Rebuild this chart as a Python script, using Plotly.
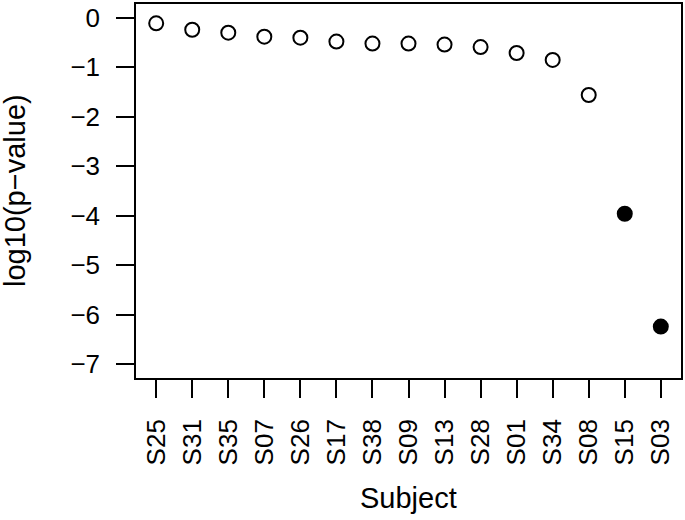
import plotly.graph_objects as go

# subjects in plotted order, log10 p-values
subjects = ["S25", "S31", "S35", "S07", "S26", "S17", "S38", "S09",
            "S13", "S28", "S01", "S34", "S08", "S15", "S03"]
log_p = [-0.11, -0.24, -0.30, -0.38, -0.40, -0.48, -0.52, -0.52,
         -0.54, -0.59, -0.71, -0.85, -1.56, -3.96, -6.24]
significant = [False] * 13 + [True, True]

y_ticks = [0, -1, -2, -3, -4, -5, -6, -7]
y_ticktext = ["0", "\u22121", "\u22122", "\u22123", "\u22124", "\u22125", "\u22126", "\u22127"]

FONT = "Liberation Sans, Arial, sans-serif"

pos = list(range(1, len(subjects) + 1))
fig = go.Figure(
    go.Scatter(
        x=pos,
        y=log_p,
        mode="markers",
        marker=dict(
            symbol=["circle" if s else "circle-open" for s in significant],
            color="black",
            size=14,
            line=dict(color="black", width=2),
        ),
        showlegend=False,
        hoverinfo="skip",
    )
)

axis_common = dict(
    showgrid=False,
    zeroline=False,
    showline=True,
    mirror=True,
    linecolor="black",
    linewidth=1.5,
    ticks="outside",
    ticklen=18,
    tickwidth=1.5,
    tickcolor="black",
    tickfont=dict(family=FONT, size=26, color="black"),
)

fig.update_xaxes(
    range=[0.44, 15.56],
    tickvals=pos,
    ticktext=subjects,
    tickangle=-90,
    ticklabelstandoff=11,
    **axis_common,
)
fig.update_yaxes(
    range=[-7.28, 0.28],
    tickvals=y_ticks,
    ticktext=y_ticktext,
    ticklabelstandoff=11,
    **axis_common,
)

fig.update_layout(
    width=685,
    height=520,
    margin=dict(l=136, r=3, t=2, b=142),
    plot_bgcolor="white",
    paper_bgcolor="white",
    annotations=[
        dict(text="Subject", xref="paper", yref="paper", x=0.5, y=0,
             yshift=-120, showarrow=False, yanchor="middle",
             font=dict(family=FONT, size=29, color="black")),
        dict(text="log10(p\u2212value)", xref="paper", yref="paper", x=0,
             y=0.5, xshift=-121, textangle=-90, showarrow=False,
             xanchor="center", font=dict(family=FONT, size=29, color="black")),
    ],
)

# drop the page's default body margin so the figure sits at the window origin
fig.write_html(
    "out.html",
    config={"displayModeBar": False},
    post_script="document.body.style.margin = '0';",
)
